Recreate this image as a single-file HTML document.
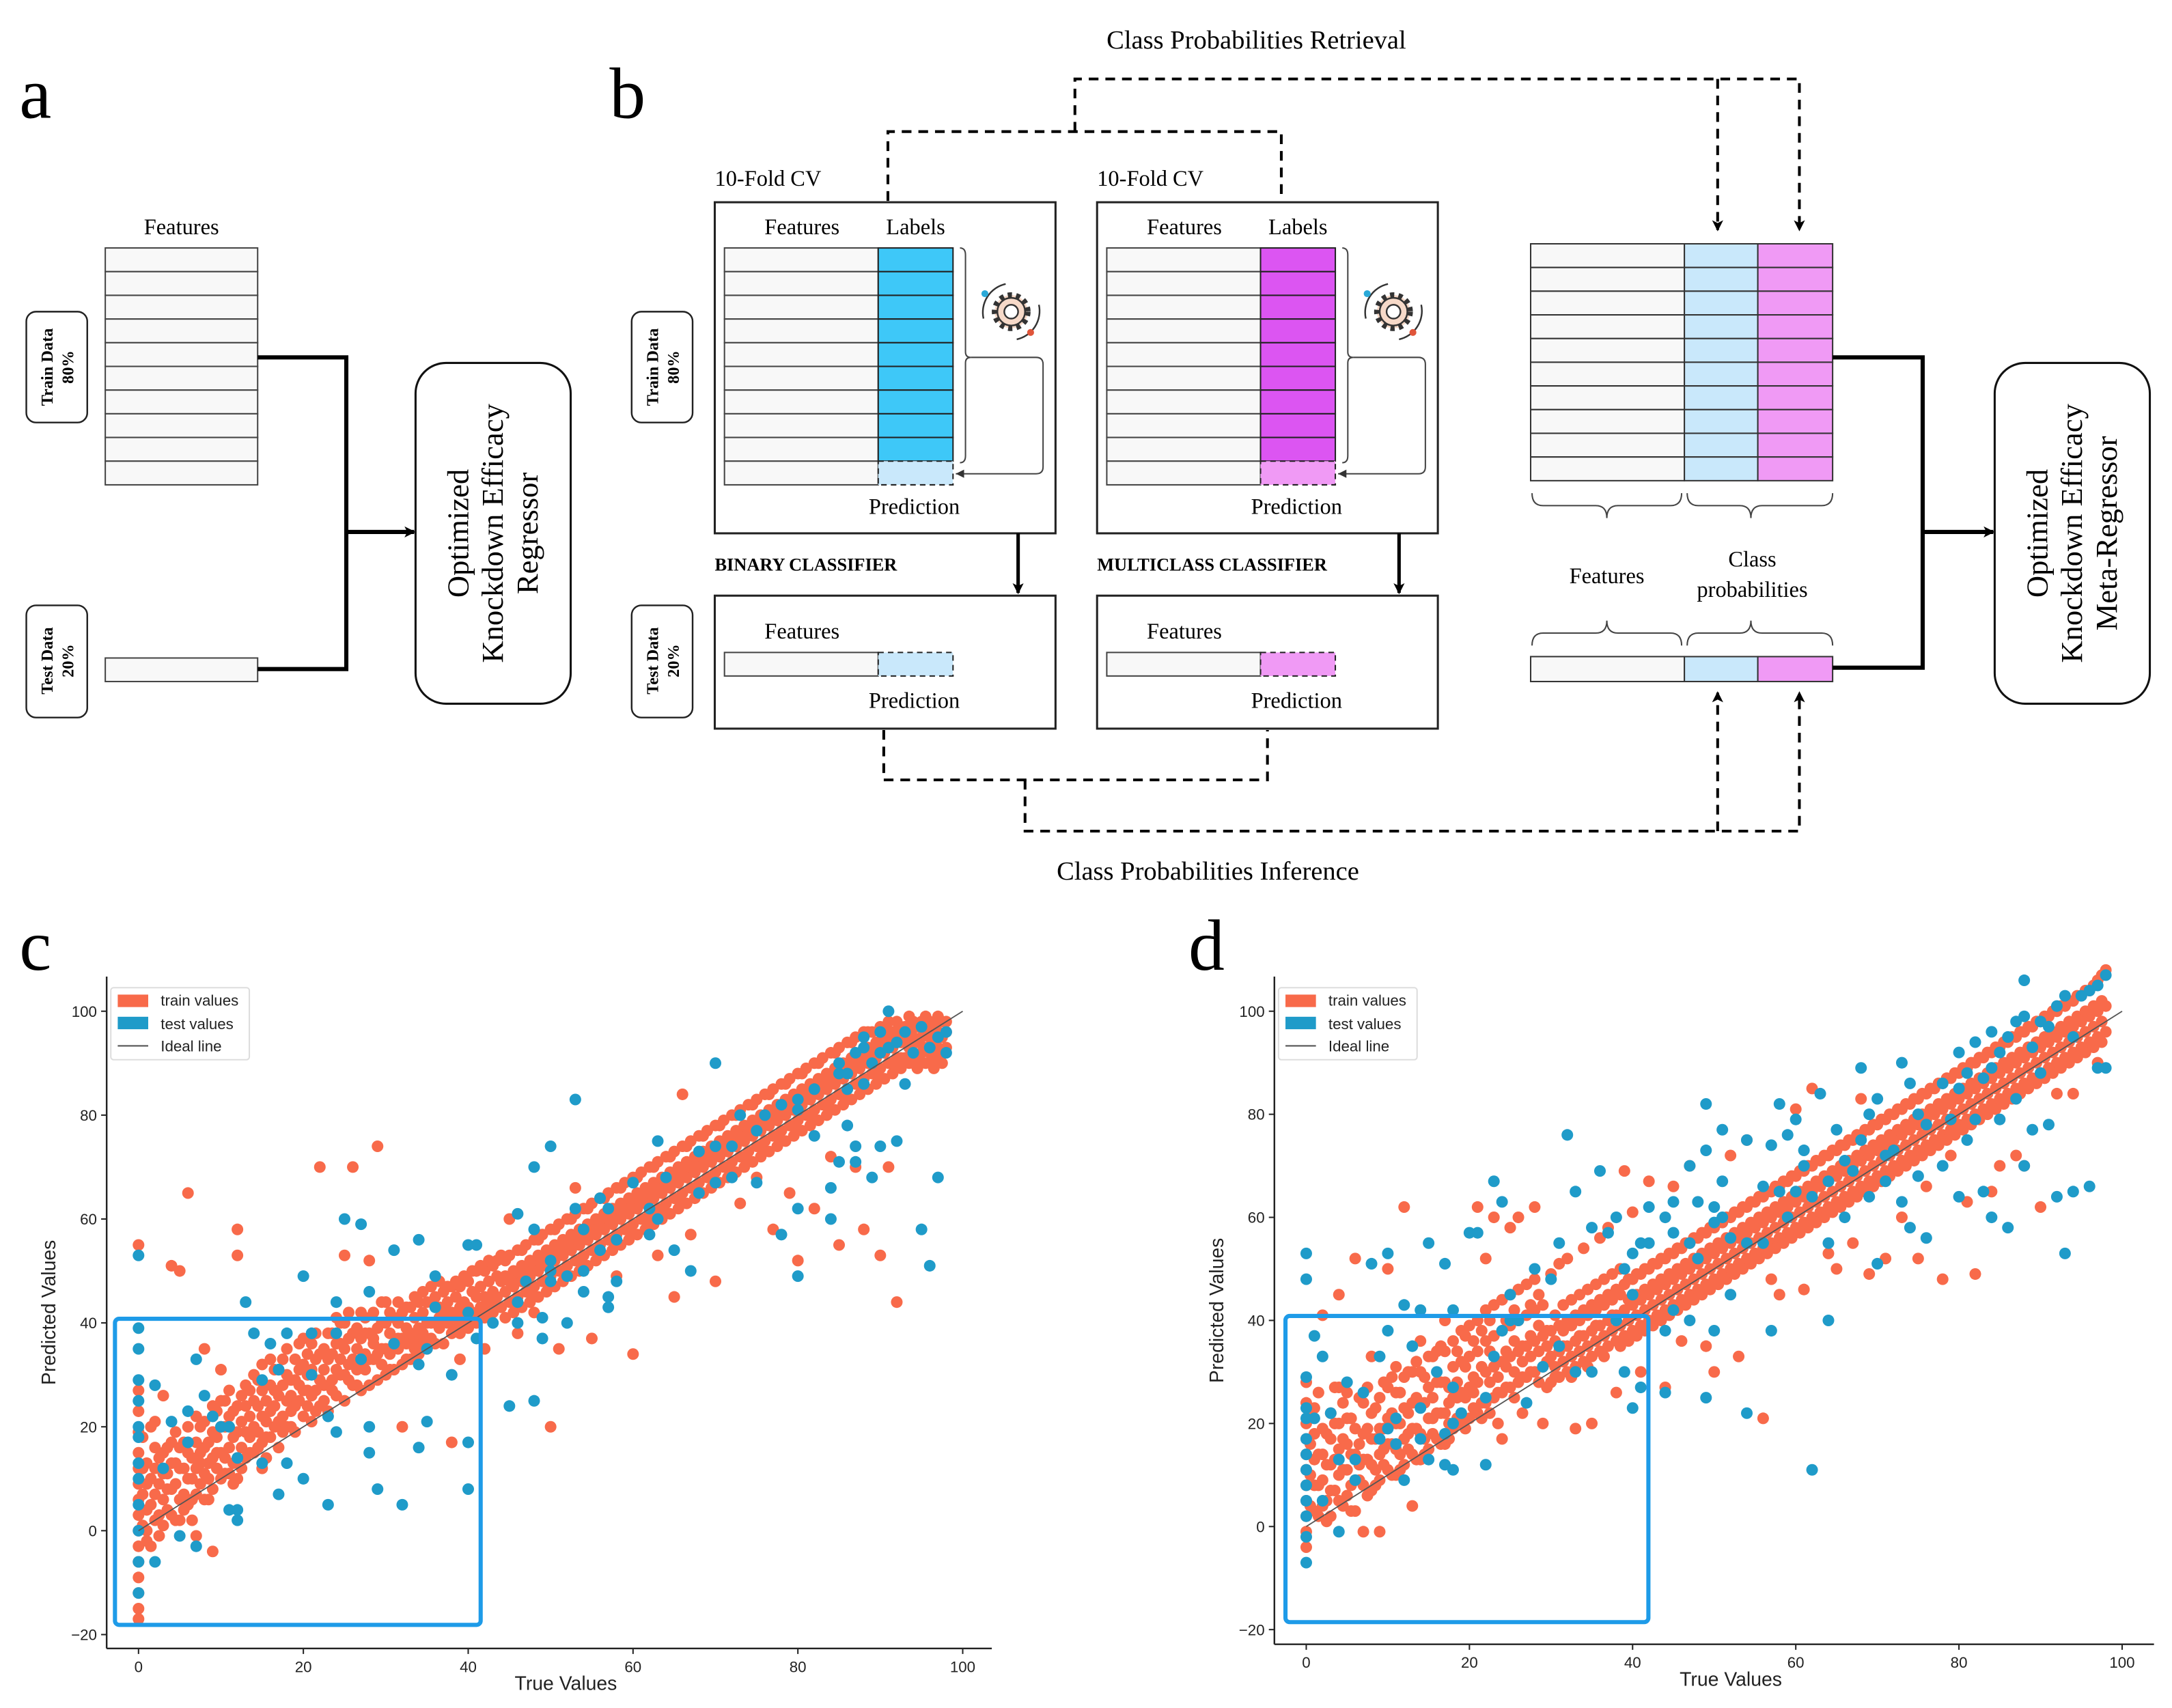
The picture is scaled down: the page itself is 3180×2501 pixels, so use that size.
<!DOCTYPE html>
<html><head><meta charset="utf-8">
<style>
html,body{margin:0;padding:0;background:#fff;}
svg{display:block;}
.serif{font-family:"Liberation Serif",serif;}
.sans{font-family:"Liberation Sans",sans-serif;}
</style></head>
<body>
<svg id="fig" width="3180" height="2501" viewBox="0 0 1568 1233" preserveAspectRatio="none" xmlns="http://www.w3.org/2000/svg">
<defs>
<marker id="ah" markerWidth="8" markerHeight="8" refX="7" refY="4" orient="auto" markerUnits="userSpaceOnUse"><path d="M0,0 L8,4 L0,8 L2,4 z" fill="#000"/></marker>
<marker id="ahs" markerWidth="6" markerHeight="6" refX="6" refY="3" orient="auto" markerUnits="userSpaceOnUse"><path d="M0,0 L6,3 L0,6 z" fill="#333"/></marker>
</defs>
<g class="serif">
<text x="14" y="85" font-size="52">a</text>
<text x="131" y="169" font-size="16" text-anchor="middle">Features</text>
<g id="tableA"></g>
<rect x="76" y="475" width="110" height="17" fill="#f8f8f8" stroke="#444" stroke-width="1"/>
<g>
<rect x="19" y="225" width="44" height="80" rx="7" fill="#fff" stroke="#222" stroke-width="1.2"/>
<text transform="translate(38,265) rotate(-90)" font-size="12" font-weight="bold" text-anchor="middle">Train Data</text>
<text transform="translate(53,265) rotate(-90)" font-size="12" font-weight="bold" text-anchor="middle">80%</text>
</g>
<g>
<rect x="19" y="437" width="44" height="81" rx="7" fill="#fff" stroke="#222" stroke-width="1.2"/>
<text transform="translate(38,477) rotate(-90)" font-size="12" font-weight="bold" text-anchor="middle">Test Data</text>
<text transform="translate(53,477) rotate(-90)" font-size="12" font-weight="bold" text-anchor="middle">20%</text>
</g>
<path d="M186,258 H250 V483 H186" fill="none" stroke="#000" stroke-width="3"/>
<line x1="250" y1="384" x2="299" y2="384" stroke="#000" stroke-width="3" marker-end="url(#ah)"/>
<g>
<rect x="300" y="262" width="112" height="246" rx="22" fill="#fff" stroke="#111" stroke-width="1.5"/>
<text transform="translate(338,385) rotate(-90)" font-size="22" text-anchor="middle">Optimized</text>
<text transform="translate(363,385) rotate(-90)" font-size="22" text-anchor="middle">Knockdown Efficacy</text>
<text transform="translate(388,385) rotate(-90)" font-size="22" text-anchor="middle">Regressor</text>
</g>

<text x="440" y="85" font-size="52">b</text>
<text x="907" y="35" font-size="19" text-anchor="middle">Class Probabilities Retrieval</text>
<g fill="none" stroke="#000" stroke-width="2" stroke-dasharray="7,5">
<path d="M641,145 V95 H925 V145"/>
<path d="M776,95 V57 H1299 V166" marker-end="url(#ah)"/>
<path d="M1240,57 V166" marker-end="url(#ah)"/>
<path d="M638,527 V563 H915 V527"/>
<path d="M740,563 V600 H1299 V500" marker-end="url(#ah)"/>
<path d="M1240,600 V500" marker-end="url(#ah)"/>
</g>
<text x="872" y="635" font-size="19" text-anchor="middle">Class Probabilities Inference</text>

<g>
<rect x="456" y="225" width="44" height="80" rx="7" fill="#fff" stroke="#222" stroke-width="1.2"/>
<text transform="translate(475,265) rotate(-90)" font-size="12" font-weight="bold" text-anchor="middle">Train Data</text>
<text transform="translate(490,265) rotate(-90)" font-size="12" font-weight="bold" text-anchor="middle">80%</text>
</g>
<g>
<rect x="456" y="437" width="44" height="81" rx="7" fill="#fff" stroke="#222" stroke-width="1.2"/>
<text transform="translate(475,477) rotate(-90)" font-size="12" font-weight="bold" text-anchor="middle">Test Data</text>
<text transform="translate(490,477) rotate(-90)" font-size="12" font-weight="bold" text-anchor="middle">20%</text>
</g>

<g id="clsB"></g>
<g id="clsM"></g>

<g id="tableR"></g>
<g>
<rect x="1105" y="474" width="111" height="18" fill="#f8f8f8" stroke="#333"/>
<rect x="1216" y="474" width="53" height="18" fill="#c9e8fb" stroke="#333"/>
<rect x="1269" y="474" width="54" height="18" fill="#f09af5" stroke="#333"/>
</g>
<g fill="none" stroke="#444" stroke-width="1">
<path d="M1106,356 q0,9 8,9 h38 q8,0 8,9 q0,-9 8,-9 h38 q8,0 8,-9"/>
<path d="M1218,356 q0,9 8,9 h30 q8,0 8,9 q0,-9 8,-9 h43 q8,0 8,-9"/>
<path d="M1106,466 q0,-9 8,-9 h38 q8,0 8,-9 q0,9 8,9 h38 q8,0 8,9"/>
<path d="M1218,466 q0,-9 8,-9 h30 q8,0 8,-9 q0,9 8,9 h43 q8,0 8,9"/>
</g>
<text x="1160" y="421" font-size="16" text-anchor="middle">Features</text>
<text x="1265" y="409" font-size="16" text-anchor="middle">Class</text>
<text x="1265" y="431" font-size="16" text-anchor="middle">probabilities</text>
<path d="M1323,258 H1388 V482 H1323" fill="none" stroke="#000" stroke-width="3"/>
<line x1="1388" y1="384" x2="1439" y2="384" stroke="#000" stroke-width="3" marker-end="url(#ah)"/>
<g>
<rect x="1440" y="262" width="112" height="246" rx="22" fill="#fff" stroke="#111" stroke-width="1.5"/>
<text transform="translate(1478,385) rotate(-90)" font-size="22" text-anchor="middle">Optimized</text>
<text transform="translate(1503,385) rotate(-90)" font-size="22" text-anchor="middle">Knockdown Efficacy</text>
<text transform="translate(1528,385) rotate(-90)" font-size="22" text-anchor="middle">Meta-Regressor</text>
</g>
</g>

<text class="serif" x="14" y="700" font-size="52">c</text>
<text class="serif" x="858" y="700" font-size="52">d</text>
<g id="chartC" class="sans"></g>
<g id="chartD" class="sans"></g>
</svg>
<script>
// ---------- chart data (True value : predicted values) ----------
const trainC = ["0:-17,-15,-12,-9,-6,-3,0,3,6,9,12,15,19,23,27,55","1:0,4,9,13,-2","2:2,7,12,16,21","3:1,6,11,15,26","4:3,8,13,17,51","5:2,6,12,16,50","6:5,10,15,20,65","7:7,12,17,22,-1","8:6,11,16,21,35","9:8,14,19,24,-4","10:10,15,20,25,31","11:11,16,22,27","12:10,14,19,24,58,53","13:14,19,24,28","14:15,20,25,30","15:12,17,22,27,32","16:18,23,28,33","17:16,21,26,31","18:20,25,30,35","19:19,24,29,33","20:22,27,32,37","21:21,26,31,36","22:24,29,34,70","23:23,28,33,38","24:26,31,36,41","25:25,30,35,40,53","26:28,33,38,70","27:27,32,37,42","28:28,33,38,52","29:29,34,39,74","30:30,35,40,44","31:31,36,41","32:32,37,42,20","33:33,38,43","34:34,39,44","35:35,40,44","36:36,40,45","37:36,41,46","38:38,42,47,17","39:38,43,47,33","40:39,43,48,42","41:40,45,50","42:41,45,50,35","43:42,46,51","44:43,48,53","45:44,48,53,60","46:45,49,54,38","47:46,50,55","48:47,51,56,42","49:48,52,57","50:49,53,58,20","51:50,54,59,35","52:51,55,60","53:52,56,61,66","54:53,57,62","55:54,58,63,37","56:55,59,64","57:56,60,65","58:57,61,66,49","59:58,62,67","60:59,63,68,34","61:60,64,69","62:61,65,70","63:62,66,71,53","64:63,67,72","65:64,68,73,45","66:65,69,74,84","67:66,70,75,57","68:67,71,76","69:68,72,77","70:69,73,78,48","71:70,74,79","72:71,75,80","73:72,76,81,63","74:73,77,82","75:74,78,83,68","76:75,79,84","77:76,80,85,58","78:77,81,86","79:78,82,87,65","80:79,83,88,52","81:80,84,89","82:81,85,90,62","83:82,86,91","84:83,87,92,72","85:84,88,93,55","86:85,89,94","87:86,90,95,70","88:87,91,96,58","89:88,92,96","90:89,93,97,53","91:90,94,98,70","92:91,95,98,44","93:91,94,97","94:92,95,98,90","95:92,95,98","96:92,95,98","97:93,96,99","98:93,96,98"];
const trainC2 = ["0.5:1,7,12,18","1.5:-3,5,10,20","2.5:3,9,14,-1","3.5:4,11,16,8","4.5:2,9,13,19","5.5:7,12,4,17","6.5:6,14,10,2","7.5:9,15,20,13","8.5:10,17,13,6","9.5:12,18,15,23","10.5:14,11,20,25","11.5:13,18,23,9","12.5:16,21,12,26","13.5:15,22,18,27","14.5:19,24,16,29","15.5:18,25,21,14","16.5:20,27,24,31","17.5:22,19,28,33","18.5:23,29,26,20","19.5:25,31,28,36","20.5:24,30,27,34","21.5:27,33,23,38","22.5:28,31,35,25","23.5:29,34,38,27","24.5:30,36,33,40","25.5:32,29,37,42","26.5:31,35,39,28","27.5:34,38,31,41","28.5:33,37,42,36","29.5:35,40,32,44","30.5:34,38,42,31","31.5:35,40,37,44","32.5:36,39,43,33","33.5:37,41,35,45","34.5:38,42,46,36","35.5:37,40,44,47","36.5:39,43,41,48","37.5:40,44,42,47","38.5:41,39,45,48","39.5:40,44,42,49","40.5:42,46,40,50","41.5:43,41,47,51","42.5:44,42,48,52","43.5:45,43,49,52","44.5:41,46,49,52","45.5:42,47,50,44","46.5:43,48,51,54","47.5:44,49,52,46","48.5:45,50,53,56","49.5:46,51,54,48","50.5:47,52,55,58","51.5:48,53,56,50","52.5:49,54,57,60","53.5:50,55,58,52","54.5:51,56,59,62","55.5:52,57,60,54","56.5:53,58,61,64","57.5:54,59,62,56","58.5:55,60,63,66","59.5:56,61,64,58","60.5:57,62,65,68","61.5:58,63,66,60","62.5:59,64,67,70","63.5:60,65,68,62","64.5:61,66,69,72","65.5:62,67,70,64","66.5:63,68,71,74","67.5:64,69,72,66","68.5:65,70,73,76","69.5:66,71,74,68","70.5:67,72,75,78","71.5:68,73,76,70","72.5:69,74,77,80","73.5:70,75,78,72","74.5:71,76,79,82","75.5:72,77,80,74","76.5:73,78,81,84","77.5:74,79,82,76","78.5:75,80,83,86","79.5:76,81,84,78","80.5:77,82,85,88","81.5:78,83,86,80","82.5:79,84,87,90","83.5:80,85,88,82","84.5:81,86,89,92","85.5:82,87,90,84","86.5:83,88,91,94","87.5:84,89,92,86","88.5:85,90,93,96","89.5:86,91,94,88","90.5:87,92,95,97","91.5:88,93,96,90","92.5:89,94,97,91","93.5:90,93,96,99","94.5:91,94,97,89","95.5:90,93,96,99","96.5:91,94,97,89","97.5:92,95,98,90"];
const testC = ["0:-12,-6,0,5,10,13,18,20,25,29,35,39,53","2:28,-6","3:12","4:21","5:-1","6:17,23","7:33,-3","8:26","9:22","10:20","11:4,20","12:2,14,4","13:44","14:38","15:13,29","16:36","17:31,7","18:13,38","20:10,49","21:30,38","23:5,22","24:19,44,38","25:60","27:59,33","28:15,20,46","29:8","31:36,54","32:5","34:32,16,56","35:35,21","36:43,49","38:30","40:55,42,8,17","41:37,55","43:40","45:24","46:40,61,44","47:48","48:25,58,70","49:37,41","50:48,50,52,74","52:49,40","53:83,62","54:50,58,46","56:54,64","57:62,45,43","58:48,56","60:67","62:62,57","63:75,60","64:68","65:54","67:50","68:65,73","70:74,90,67","72:68,74","73:80","75:67,77","76:80","78:82,57","80:83,49,62,81","82:85,76","84:66,60","85:90,88,71","86:88,85,78","87:92,74,71","88:93,95,86","89:90,68","90:96,92,74","91:100,93","92:94,75","93:96,86","94:92","95:58,97","96:93,51","97:68,95","98:92,96"];
const trainD = ["0:-4,-1,2,5,8,11,14,17,20,24,28","1:3,8,13,18,23","2:4,9,14,19,41","3:2,7,12,17,22","4:5,10,15,20,45,27","5:6,11,16,21,26","6:3,9,14,19,52","7:8,13,18,24,-1","8:7,12,17,22,33","9:9,14,19,25,-1","10:11,16,21,27,50","11:10,15,20,26,31","12:12,17,23,29,62","13:14,19,24,30,4","14:13,18,24,30,36","15:15,21,27,33","16:17,22,28,34","17:16,22,28,34,40","18:19,25,31,36","19:20,26,32,38","20:21,27,33,39","21:22,28,34,40,62","22:24,30,36,42,52","23:25,31,37,43,60","24:26,32,38,44,17","25:27,33,39,45,58","26:28,34,40,46,60","27:29,35,41,47","28:30,36,42,48,62","29:31,37,43,20","30:28,33,38,49","31:29,34,39,51","32:30,35,40,52","33:31,36,41,19","34:32,37,42,54","35:33,38,43,20","36:34,39,44,56","37:35,40,45,58","38:36,41,46,26","39:37,42,47,69","40:38,43,48,61","41:39,44,49,30","42:40,45,50,67","43:41,46,51","44:42,47,52,27","45:43,48,53,66","46:44,49,54,36","47:45,50,55,70","48:46,51,56","49:47,52,57,35","50:48,53,58,30","51:49,54,59","52:50,55,60,72","53:51,56,61,33","54:52,57,62,75","55:53,58,63","56:54,59,64,21","57:55,60,65,48","58:56,61,66,45","59:57,62,67","60:58,63,68,81","61:59,64,69,46","62:60,65,70,85","63:61,66,71","64:62,67,72,53","65:63,68,73,50","66:64,69,74","67:65,70,75,55","68:66,71,76,83","69:67,72,77,49","70:68,73,78","71:69,74,79,52","72:70,75,80","73:71,76,81,60","74:72,77,82","75:73,78,83,52","76:74,79,84,66","77:75,80,85","78:76,81,86,48","79:77,82,87,72","80:78,83,88","81:79,84,89,63","82:80,85,90,49","83:81,86,91","84:82,87,92,65","85:83,88,93,70","86:84,89,94","87:85,90,95,72","88:86,91,96,70","89:87,92,97","90:88,93,98,62","91:89,94,99","92:90,95,100,84","93:91,96,101","94:92,97,102,84","95:93,98,103","96:94,99,104","97:95,100,106,90","98:96,101,108"];
const trainD2 = ["0.5:4,10,16,22","1.5:2,8,14,26","2.5:5,12,18,1","3.5:7,13,20,27","4.5:4,11,17,24","5.5:8,14,21,3","6.5:9,16,12,25","7.5:6,13,19,27","8.5:11,17,8,23","9.5:12,19,15,28","10.5:10,16,22,29","11.5:14,20,11,26","12.5:15,22,18,30","13.5:13,19,25,32","14.5:17,24,14,29","15.5:18,25,21,33","16.5:16,22,28,35","17.5:20,27,24,17","18.5:21,28,25,34","19.5:19,25,31,37","20.5:23,29,26,36","21.5:24,31,21,38","22.5:22,28,34,40","23.5:26,32,29,20","24.5:27,34,31,40","25.5:25,30,36,42","26.5:29,35,32,22","27.5:30,37,33,43","28.5:28,34,39,45","29.5:32,38,35,27","30.5:31,36,41,29","31.5:32,38,43,35","32.5:33,39,44,29","33.5:34,40,45,37","34.5:35,41,46,31","35.5:36,42,47,39","36.5:37,43,48,33","37.5:38,44,49,41","38.5:39,45,50,35","39.5:36,40,44,48","40.5:37,41,45,49","41.5:38,42,46,50","42.5:39,43,47,51","43.5:40,44,48,52","44.5:41,45,49,53","45.5:42,46,50,54","46.5:43,47,51,55","47.5:44,48,52,56","48.5:45,49,53,57","49.5:46,50,54,58","50.5:47,51,55,59","51.5:48,52,56,60","52.5:49,53,57,61","53.5:50,54,58,62","54.5:51,55,59,63","55.5:52,56,60,64","56.5:53,57,61,65","57.5:54,58,62,66","58.5:55,59,63,67","59.5:56,60,64,68","60.5:57,61,65,69","61.5:58,62,66,70","62.5:59,63,67,71","63.5:60,64,68,72","64.5:61,65,69,73","65.5:62,66,70,74","66.5:63,67,71,75","67.5:64,68,72,76","68.5:65,69,73,77","69.5:66,70,74,78","70.5:67,71,75,79","71.5:68,72,76,80","72.5:69,73,77,81","73.5:70,74,78,82","74.5:71,75,79,83","75.5:72,76,80,84","76.5:73,77,81,85","77.5:74,78,82,86","78.5:75,79,83,87","79.5:76,80,84,88","80.5:77,81,85,89","81.5:78,82,86,90","82.5:79,83,87,91","83.5:80,84,88,92","84.5:81,85,89,93","85.5:82,86,90,94","86.5:83,87,91,95","87.5:84,88,92,96","88.5:85,89,93,97","89.5:86,90,94,98","90.5:87,91,95,99","91.5:88,92,96,100","92.5:89,93,97,101","93.5:90,94,98,102","94.5:91,95,99,103","95.5:92,96,100,104","96.5:93,97,101,105","97.5:94,98,102,107"];
const testD = ["0:-7,-2,2,5,8,11,14,17,21,23,29,48,53","1:21,37","2:33,5","3:22","4:-1,13","5:28","6:9,13","7:26","8:51","9:17,33","10:38,53,19","11:21,16","12:43,9","13:35","14:42,23,17","15:55,13","16:30","17:18,51,12","18:42,27,11,20","19:22","20:57","21:57","22:12,25","23:67,33","24:63,38","25:40,45","26:40","27:24","28:50","29:31","30:48","31:55,35","32:76","33:65,30","35:58,30","36:69","37:57","38:60,40","39:30,50","40:53,45,23","41:55,27","42:62,55","44:26,38,60","45:42,63,57","47:40,55,70","48:52,63","49:25,73,82","50:59,62,38","51:67,77,60","52:45,56","54:22,55,75","56:66,55","57:38,74","58:82,65","59:60,76","60:79,65","61:73,70","62:11,64","63:84","64:67,55,40","65:77","66:71,60","67:69","68:89,75","69:64,80","70:51,83","71:72,67","72:73","73:90,63","74:86,58","75:80,68","76:78,56","78:86,70","79:79","80:85,92,64","81:88,75","82:94,79","83:87,65","84:89,96,60","85:92,79","86:95,58","87:98,83","88:99,106,70","89:93,77","90:98,88","91:97,78","92:101,64","93:53,103","94:95,65","95:103","96:104,66","97:105,89","98:107,89"];
const xTicks = [0,20,40,60,80,100];
const yTicks = [-20,0,20,40,60,80,100];

function parse(arr){const out=[];arr.forEach(s=>{const [x,ys]=s.split(':');ys.split(',').forEach(y=>out.push([+x,+y]));});return out;}
const NS='http://www.w3.org/2000/svg';
function mk(tag,attrs,parent){const e=document.createElementNS(NS,tag);for(const k in attrs)e.setAttribute(k,attrs[k]);parent.appendChild(e);return e;}

(function(){
  const ta=document.getElementById('tableA');
  for(let i=0;i<10;i++){const r=mk('rect',{x:76,y:179+i*17.1,width:110,height:17.1,fill:'#f8f8f8',stroke:'#444','stroke-width':1},ta);
    
    }
  const tr=document.getElementById('tableR');
  for(let i=0;i<10;i++){const y=176+i*17.1;
    const g=mk('g',{},tr);
    
    
    mk('rect',{x:1105,y:y,width:111,height:17.1,fill:'#f8f8f8',stroke:'#333'},g);
    mk('rect',{x:1216,y:y,width:53,height:17.1,fill:'#c9e8fb',stroke:'#333'},g);
    mk('rect',{x:1269,y:y,width:54,height:17.1,fill:'#f09af5',stroke:'#333'},g);}
  function classifier(id,ox,col,light,title,arrowX){
    const g=document.getElementById(id);
    mk('text',{x:ox,y:134,'font-size':16},g).textContent='10-Fold CV';
    mk('rect',{x:ox,y:146,width:246,height:239,fill:'#fff',stroke:'#222','stroke-width':1.5},g);
    mk('text',{x:ox+63,y:169,'font-size':16,'text-anchor':'middle'},g).textContent='Features';
    mk('text',{x:ox+145,y:169,'font-size':16,'text-anchor':'middle'},g).textContent='Labels';
    for(let i=0;i<10;i++){const y=179+i*17.1;
      const r=mk('rect',{x:ox+7,y:y,width:111,height:17.1,fill:'#f8f8f8',stroke:'#444'},g);
      
      
      if(i<9){const l=mk('rect',{x:ox+118,y:y,width:54,height:17.1,fill:col,stroke:'#222'},g);
        
        }
      else mk('rect',{x:ox+118,y:y,width:54,height:17.1,fill:light,stroke:'#222','stroke-dasharray':'4,3'},g);}
    mk('path',{d:`M${ox+177},179 q4,0 4,5 v70 q0,4 4,4 q-4,0 -4,4 v67 q0,5 -4,5`,fill:'none',stroke:'#444'},g);
    mk('path',{d:`M${ox+185},258 H${ox+232} q5,0 5,5 V337 q0,5 -5,5 H${ox+174}`,fill:'none',stroke:'#444','marker-end':'url(#ahs)'},g);
    const gx=ox+214,gy=225;
    mk('circle',{cx:gx,cy:gy,r:12,fill:'#f6d9c8',stroke:'#333','stroke-width':4,'stroke-dasharray':'3,3'},g);
    mk('circle',{cx:gx,cy:gy,r:10,fill:'#f6d9c8',stroke:'#333','stroke-width':1.2},g);
    mk('circle',{cx:gx,cy:gy,r:5,fill:'#fff',stroke:'#333','stroke-width':1.2},g);
    mk('path',{d:`M${gx-20},${gy+5} a21,21 0 0 1 16,-25 M${gx+20},${gy-5} a21,21 0 0 1 -16,25`,fill:'none',stroke:'#333','stroke-width':1.2},g);
    mk('circle',{cx:gx-19,cy:gy-13,r:2.5,fill:'#2aa9d8'},g);
    mk('circle',{cx:gx+14,cy:gy+15,r:2.5,fill:'#e0553a'},g);
    mk('text',{x:ox+144,y:371,'font-size':16,'text-anchor':'middle'},g).textContent='Prediction';
    mk('text',{x:ox,y:412,'font-size':13,'font-weight':'bold'},g).textContent=title;
    mk('line',{x1:arrowX,y1:385,x2:arrowX,y2:428,stroke:'#000','stroke-width':2.5,'marker-end':'url(#ah)'},g);
    mk('rect',{x:ox,y:430,width:246,height:96,fill:'#fff',stroke:'#222','stroke-width':1.5},g);
    mk('text',{x:ox+63,y:461,'font-size':16,'text-anchor':'middle'},g).textContent='Features';
    mk('rect',{x:ox+7,y:471,width:111,height:17,fill:'#f8f8f8',stroke:'#444'},g);
    mk('rect',{x:ox+118,y:471,width:54,height:17,fill:light,stroke:'#222','stroke-dasharray':'4,3'},g);
    mk('text',{x:ox+144,y:511,'font-size':16,'text-anchor':'middle'},g).textContent='Prediction';
  }
  classifier('clsB',516,'#3ec8f8','#c9e8fb','BINARY CLASSIFIER',735);
  classifier('clsM',792,'#dc55f2','#f09af5','MULTICLASS CLASSIFIER',1010);
})();

function chart(id,cfg,train,test){
  const g=document.getElementById(id);
  const sx=v=>cfg.x0+v*cfg.kx, sy=v=>cfg.y0-v*cfg.ky;
  const ptsTr=parse(train), ptsTe=parse(test);
  ptsTr.forEach(p=>{const c=mk('circle',{cx:sx(p[0]),cy:sy(p[1]),r:4.2,fill:'#f86a4a'},g);
    
    });
  ptsTe.forEach(p=>{const c=mk('circle',{cx:sx(p[0]),cy:sy(p[1]),r:4.2,fill:'#1f9bc9'},g);
    
    });
  const il=mk('line',{x1:sx(0),y1:sy(0),x2:sx(100),y2:sy(100),stroke:'#555','stroke-width':0.9},g);
  
  
  const hb=mk('rect',{x:cfg.bx,y:cfg.by,width:cfg.bw,height:cfg.bh,rx:3,fill:'none',stroke:'#1e9be8','stroke-width':3},g);
  
  
  const ya=mk('line',{x1:cfg.ax,y1:cfg.top,x2:cfg.ax,y2:cfg.ab,stroke:'#222','stroke-width':1.2},g);
  
  
  const xa=mk('line',{x1:cfg.ax,y1:cfg.ab,x2:cfg.right,y2:cfg.ab,stroke:'#222','stroke-width':1.2},g);
  
  
  xTicks.forEach(t=>{mk('line',{x1:sx(t),y1:cfg.ab,x2:sx(t),y2:cfg.ab+4,stroke:'#222'},g);
    const tx=mk('text',{x:sx(t),y:cfg.ab+17,'font-size':11,'text-anchor':'middle',fill:'#222'},g);
    
    
    tx.textContent=t;});
  yTicks.forEach(t=>{mk('line',{x1:cfg.ax-4,y1:sy(t),x2:cfg.ax,y2:sy(t),stroke:'#222'},g);
    const tx=mk('text',{x:cfg.ax-7,y:sy(t)+4,'font-size':11,'text-anchor':'end',fill:'#222'},g);
    
    
    tx.textContent=t<0?'\u2212'+(-t):t;});
  const xt=mk('text',{x:(cfg.ax+cfg.right)/2+12,y:cfg.ab+30,'font-size':14,'text-anchor':'middle',fill:'#222'},g);
  
  
  xt.textContent='True Values';
  const yt=mk('text',{transform:`translate(${cfg.ax-37},${(cfg.top+cfg.ab)/2}) rotate(-90)`,'font-size':14,'text-anchor':'middle',fill:'#222'},g);
  
  
  yt.textContent='Predicted Values';
  const lg=mk('g',{},g);
  
  
  const lx=cfg.ax+3, ly=cfg.top+8;
  mk('rect',{x:lx,y:ly,width:100,height:52,fill:'#fff',stroke:'#ddd','stroke-width':1,rx:2},lg);
  mk('rect',{x:lx+5,y:ly+5,width:22,height:9,fill:'#f86a4a'},lg);
  mk('text',{x:lx+36,y:ly+13,'font-size':11,fill:'#222'},lg).textContent='train values';
  mk('rect',{x:lx+5,y:ly+21,width:22,height:9,fill:'#1f9bc9'},lg);
  mk('text',{x:lx+36,y:ly+30,'font-size':11,fill:'#222'},lg).textContent='test values';
  mk('line',{x1:lx+5,y1:ly+42,x2:lx+27,y2:ly+42,stroke:'#555','stroke-width':1},lg);
  mk('text',{x:lx+36,y:ly+46,'font-size':11,fill:'#222'},lg).textContent='Ideal line';
}
chart('chartC',{x0:100,kx:5.95,y0:1105,ky:3.75,ax:77,top:705,ab:1190,right:716,bx:83,by:952,bw:264,bh:221},trainC.concat(trainC2),testC);
chart('chartD',{x0:943,kx:5.89,y0:1102,ky:3.72,ax:920,top:705,ab:1187,right:1555,bx:928,by:950,bw:262,bh:221},trainD.concat(trainD2),testD);
</script>
</body></html>
